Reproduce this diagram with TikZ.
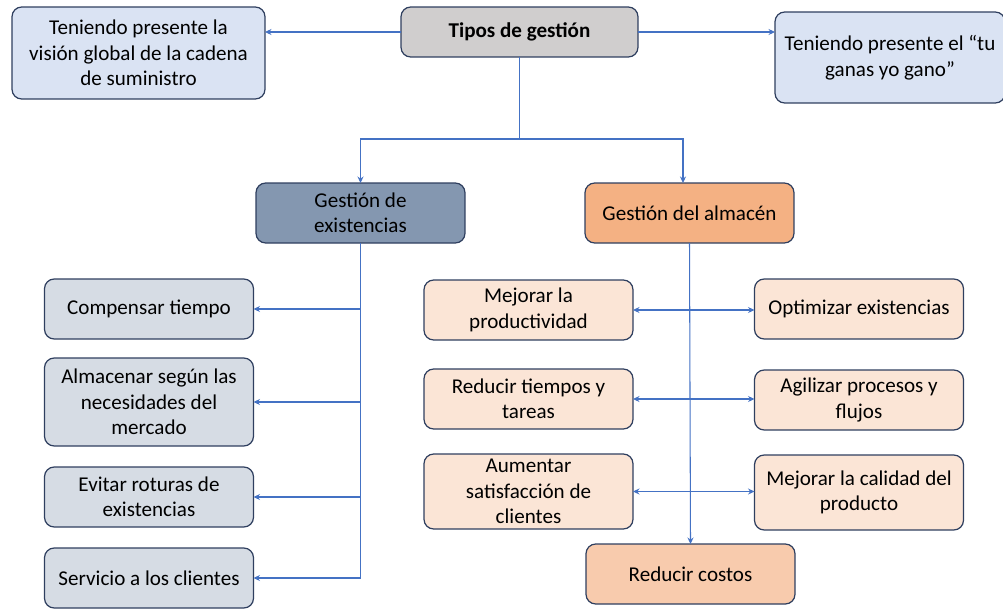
\documentclass[tikz,border=0pt]{standalone}
\usepackage{fontspec}
\setmainfont{Carlito}
\usepackage{tikz}
\usetikzlibrary{positioning,arrows.meta}
\usepackage{xcolor}
\definecolor{linea}{HTML}{4472C4}
\definecolor{borde}{HTML}{2F3F5F}
\definecolor{grisC}{HTML}{D0CECE}
\definecolor{azulC}{HTML}{DAE3F3}
\definecolor{azulM}{HTML}{8497B0}
\definecolor{grisA}{HTML}{D6DCE4}
\definecolor{naranja}{HTML}{F4B183}
\definecolor{durazno}{HTML}{FBE5D6}
\definecolor{salmon}{HTML}{F8CBAD}

\begin{document}
\begin{tikzpicture}[x=0.02cm,y=-0.02cm,>={Stealth[length=1.3mm,width=1.2mm]},
  caja/.style={draw=borde,line width=0.7pt,rounded corners=5.5pt,align=center,inner sep=2pt,outer sep=0pt,
    font=\fontsize{12}{14.5}\selectfont,minimum width=4.18cm,minimum height=1.2cm},
  con/.style={draw=linea,line width=0.6pt}]
\useasboundingbox (0,0) rectangle (1003,609);
\node[caja,fill=grisC,minimum width=4.74cm,minimum height=1cm,font=\fontsize{12}{14.5}\selectfont\bfseries] (tipos) at (519.5,32) {Tipos de gestión};
\node[caja,fill=azulC,minimum width=5.06cm,minimum height=1.84cm] (vision) at (138.5,53) {Teniendo presente la\\visión global de la cadena\\de suministro};
\node[caja,fill=azulC,minimum width=4.6cm,minimum height=1.82cm] (tuganas) at (890,57.5) {Teniendo presente el “tu\\ganas yo gano”};
\node[caja,fill=azulM] (existencias) at (360.5,213) {Gestión de\\existencias};
\node[caja,fill=naranja] (almacen) at (689.5,213) {Gestión del almacén};
\node[caja,fill=grisA] (compensar) at (149,309) {Compensar tiempo};
\node[caja,fill=grisA,minimum height=1.76cm] (almacenar) at (149,402) {Almacenar según las\\necesidades del\\mercado};
\node[caja,fill=grisA] (evitar) at (149,497) {Evitar roturas de\\existencias};
\node[caja,fill=grisA] (servicio) at (149,578) {Servicio a los clientes};
\node[caja,fill=durazno] (productividad) at (528.5,310) {Mejorar la\\productividad};
\node[caja,fill=durazno] (tiempos) at (528.5,399) {Reducir tiempos y\\tareas};
\node[caja,fill=durazno,minimum height=1.5cm] (satisfaccion) at (528.5,491.5) {Aumentar\\satisfacción de\\clientes};
\node[caja,fill=durazno] (optimizar) at (859,309) {Optimizar existencias};
\node[caja,fill=durazno] (agilizar) at (859,400) {Agilizar procesos y\\flujos};
\node[caja,fill=durazno,minimum height=1.5cm] (calidad) at (859,492.5) {Mejorar la calidad del\\producto};
\node[caja,fill=salmon] (costos) at (690.5,574) {Reducir costos};
\coordinate (split) at (519.5,139);
\draw[con,->] (tipos.west) -- (tipos.west -| vision.east);
\draw[con,->] (tipos.east) -- (tipos.east -| tuganas.west);
\draw[con] (tipos.south) -- (split);
\draw[con,->] (split) -| (existencias.north);
\draw[con,->] (split) -| ([xshift=-0.13cm]almacen.north);
\draw[con] (existencias.south) -- (existencias.south |- servicio.east);
\foreach \n in {compensar,almacenar,evitar,servicio}
  \draw[con,->] (existencias.south |- \n.east) -- (\n.east);
\draw[con,->] (almacen.south) -- (costos.north);
\draw[con,<->] (productividad.east) -- (productividad.east -| optimizar.west);
\draw[con,<->] (tiempos.east) -- (tiempos.east -| agilizar.west);
\draw[con,<->] (satisfaccion.east) -- (satisfaccion.east -| calidad.west);
\end{tikzpicture}
\end{document}
